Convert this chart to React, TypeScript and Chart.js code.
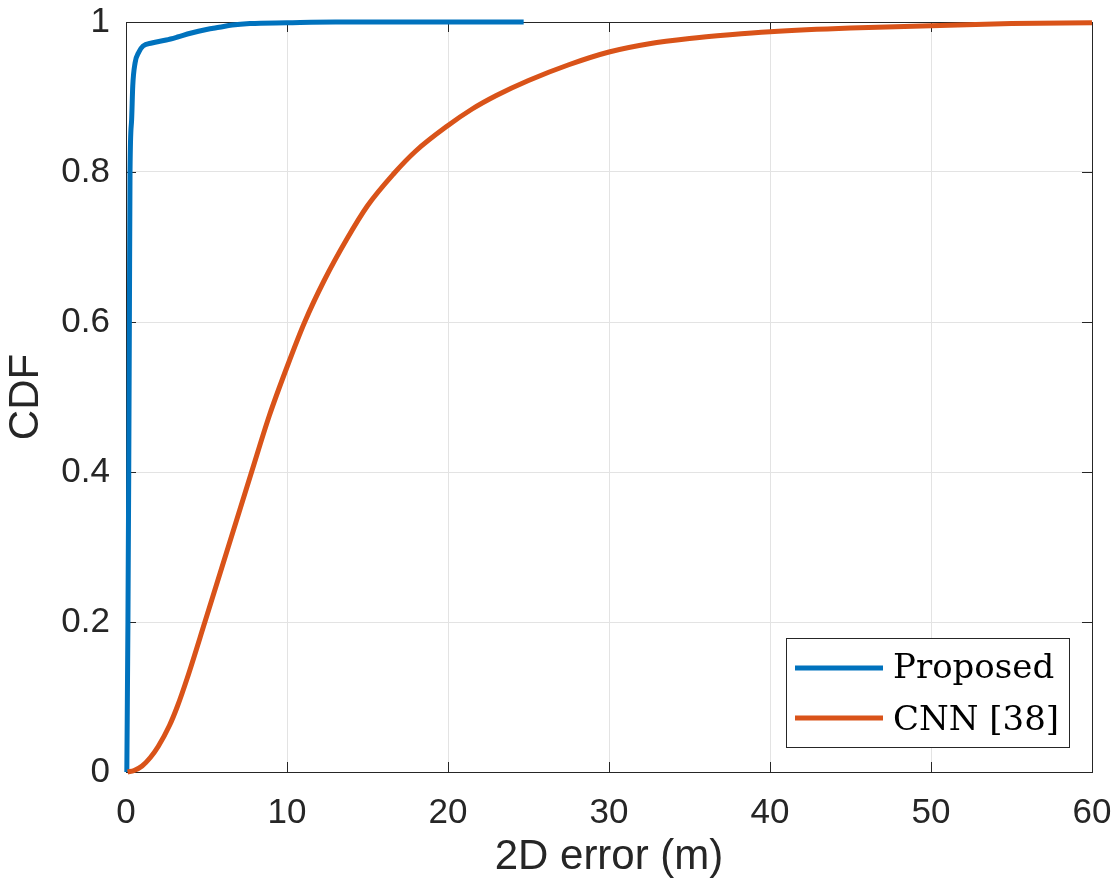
import React, { useEffect, useRef } from "react";
import { Chart, registerables } from "chart.js";

Chart.register(...registerables);

// ---- Data ----
const seriesLabels = ["Proposed", "CNN [38]"];
const seriesColors = ["#0072BD", "#D95319"];

const proposedX = [0.05, 0.12, 0.17, 0.21, 0.25, 0.35, 0.42, 0.56, 0.8, 1.06, 1.6, 2.5, 3.2, 4.0, 5.0, 5.8, 6.6, 7.7, 10, 13, 24.7];
const proposedY = [0, 0.2, 0.4, 0.6, 0.8, 0.87, 0.915, 0.945, 0.96, 0.968, 0.972, 0.976, 0.98, 0.985, 0.99, 0.993, 0.996, 0.998, 0.999, 1, 1];

const cnnX = [0.1, 0.5, 1, 1.5, 2, 2.7, 3.2, 3.8, 4.9, 6.35, 7.8, 8.9, 10, 11.1, 12.3, 13.7, 15, 16.6, 18, 20, 21.5, 23, 25, 27.5, 30, 32.5, 35, 37.5, 40, 45, 50, 55, 60];
const cnnY = [0, 0.002, 0.008, 0.019, 0.034, 0.062, 0.088, 0.125, 0.2, 0.3, 0.4, 0.475, 0.54, 0.6, 0.655, 0.71, 0.755, 0.797, 0.828, 0.862, 0.884, 0.902, 0.922, 0.943, 0.96, 0.971, 0.978, 0.983, 0.987, 0.992, 0.995, 0.998, 0.999];

const xTicks = [0, 10, 20, 30, 40, 50, 60];
const yTicks = [0, 0.2, 0.4, 0.6, 0.8, 1];
const yTickLabels = ["0", "0.2", "0.4", "0.6", "0.8", "1"];

const xTitle = "2D error (m)";
const yTitle = "CDF";

const AXIS_COLOR = "#262626";
const GRID_COLOR = "#e3e3e3";
const TICK_FONT = "'Liberation Sans', Arial, Helvetica, sans-serif";

const boxPlugin = {
  id: "matlabBox",
  beforeDatasetsDraw(chart: any) {
    const { ctx, chartArea } = chart;
    const { left, right, top, bottom } = chartArea;
    const xs = chart.scales.x;
    const ys = chart.scales.y;
    const tl = 10;
    ctx.save();
    ctx.strokeStyle = AXIS_COLOR;
    ctx.lineWidth = 1;
    ctx.beginPath();
    xTicks.forEach((v) => {
      const px = Math.round(xs.getPixelForValue(v)) + 0.5;
      ctx.moveTo(px, bottom);
      ctx.lineTo(px, bottom - tl);
      ctx.moveTo(px, top);
      ctx.lineTo(px, top + tl);
    });
    yTicks.forEach((v) => {
      const py = Math.round(ys.getPixelForValue(v)) + 0.5;
      ctx.moveTo(left, py);
      ctx.lineTo(left + tl, py);
      ctx.moveTo(right, py);
      ctx.lineTo(right - tl, py);
    });
    ctx.stroke();
    ctx.strokeRect(Math.round(left) + 0.5, Math.round(top) + 0.5, Math.round(right - left), Math.round(bottom - top));
    ctx.restore();
  },
};

const legendPlugin = {
  id: "insideLegend",
  afterDraw(chart: any) {
    const { ctx, chartArea } = chart;
    const w = 283;
    const h = 109;
    const x0 = Math.round(chartArea.right - 23 - w);
    const y0 = Math.round(chartArea.bottom - 25 - h);
    ctx.save();
    ctx.fillStyle = "#ffffff";
    ctx.fillRect(x0, y0, w, h);
    ctx.strokeStyle = AXIS_COLOR;
    ctx.lineWidth = 1;
    ctx.strokeRect(x0 + 0.5, y0 + 0.5, w, h);
    const ds = chart.data.datasets;
    const lineY = [30, 80];
    const baseY = [40, 92];
    ds.forEach((d: any, i: number) => {
      ctx.strokeStyle = d.borderColor;
      ctx.lineWidth = 5;
      ctx.beginPath();
      ctx.moveTo(x0 + 9, y0 + lineY[i]);
      ctx.lineTo(x0 + 97, y0 + lineY[i]);
      ctx.stroke();
      ctx.fillStyle = "#000000";
      ctx.font = "34px 'DejaVu Serif', serif";
      ctx.textBaseline = "alphabetic";
      ctx.textAlign = "left";
      ctx.fillText(d.label, x0 + 107, y0 + baseY[i]);
    });
    ctx.restore();
  },
};

const zeroPad = (s: any) => {
  s.paddingTop = 0;
  s.paddingBottom = 0;
  s.paddingLeft = 0;
  s.paddingRight = 0;
};

export default function App() {
  const ref = useRef<HTMLCanvasElement | null>(null);

  useEffect(() => {
    if (!ref.current) return;
    const chart = new Chart(ref.current, {
      type: "line",
      data: {
        datasets: [
          {
            label: seriesLabels[0],
            data: proposedX.map((x, i) => ({ x, y: proposedY[i] })),
            borderColor: seriesColors[0],
            backgroundColor: seriesColors[0],
            borderWidth: 5,
            pointRadius: 0,
            fill: false,
            cubicInterpolationMode: "monotone",
            clip: false,
            order: 1,
          },
          {
            label: seriesLabels[1],
            data: cnnX.map((x, i) => ({ x, y: cnnY[i] })),
            borderColor: seriesColors[1],
            backgroundColor: seriesColors[1],
            borderWidth: 5,
            pointRadius: 0,
            fill: false,
            cubicInterpolationMode: "monotone",
            clip: false,
            order: 0,
          },
        ],
      },
      options: {
        animation: false,
        responsive: false,
        maintainAspectRatio: false,
        layout: { padding: { top: 22, right: 26, left: 0, bottom: 0 } },
        plugins: {
          legend: { display: false },
          tooltip: { enabled: false },
        },
        scales: {
          x: {
            type: "linear",
            min: 0,
            max: 60,
            afterBuildTicks: (s: any) => {
              s.ticks = xTicks.map((v) => ({ value: v }));
            },
            afterFit: (s: any) => {
              s.height = 114;
              zeroPad(s);
            },
            ticks: {
              color: AXIS_COLOR,
              font: { family: TICK_FONT, size: 35 },
              padding: 20,
              maxRotation: 0,
              autoSkip: false,
            },
            grid: { color: GRID_COLOR, lineWidth: 1, drawTicks: false },
            border: { display: false },
            title: {
              display: true,
              text: xTitle,
              color: AXIS_COLOR,
              font: { family: TICK_FONT, size: 42 },
              padding: { top: 0, bottom: 3 },
            },
          },
          y: {
            type: "linear",
            min: 0,
            max: 1,
            afterBuildTicks: (s: any) => {
              s.ticks = yTicks.map((v) => ({ value: v }));
            },
            afterFit: (s: any) => {
              s.width = 126;
              zeroPad(s);
            },
            ticks: {
              color: AXIS_COLOR,
              font: { family: TICK_FONT, size: 35 },
              padding: 16,
              autoSkip: false,
              callback: (_v: any, i: number) => yTickLabels[i],
            },
            grid: { color: GRID_COLOR, lineWidth: 1, drawTicks: false },
            border: { display: false },
            title: {
              display: true,
              text: yTitle,
              color: AXIS_COLOR,
              font: { family: TICK_FONT, size: 42 },
              padding: { top: 1, bottom: 0 },
            },
          },
        },
      },
      plugins: [boxPlugin, legendPlugin],
    });
    return () => chart.destroy();
  }, []);

  return (
    <div style={{ position: "fixed", left: 0, top: 0, width: 1118, height: 886, background: "#fff" }}>
      <canvas ref={ref} width={1118} height={886} style={{ width: 1118, height: 886, display: "block" }} />
    </div>
  );
}
